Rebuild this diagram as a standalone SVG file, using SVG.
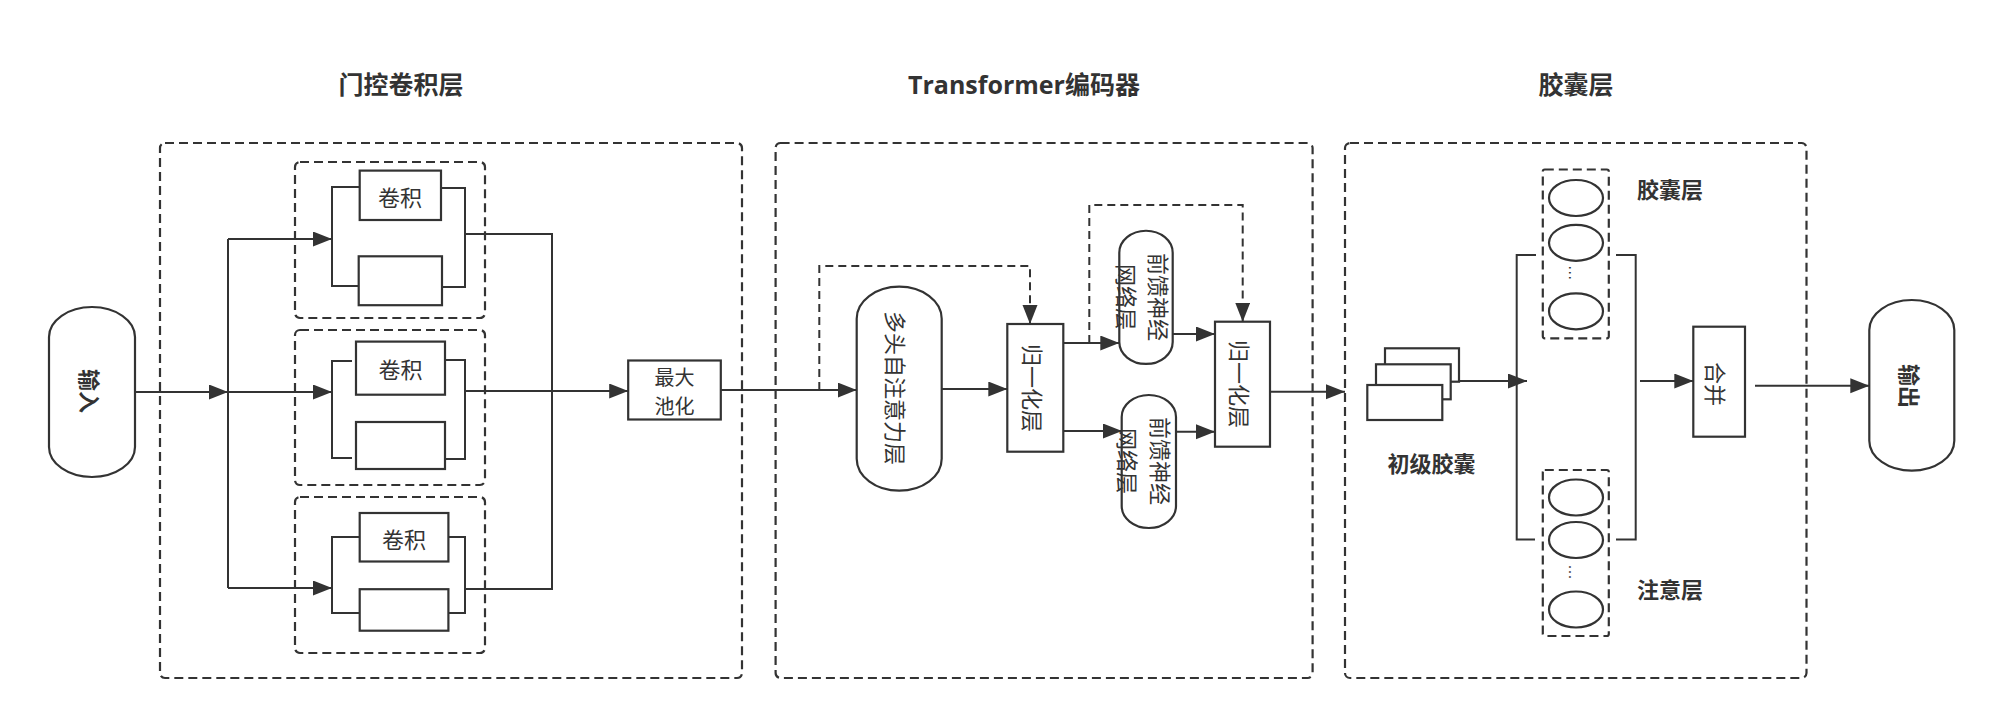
<svg xmlns="http://www.w3.org/2000/svg" width="2000" height="723" viewBox="0 0 2000 723">
<style>
.bg{fill:#ffffff}
.dbox{fill:none;stroke:#333;stroke-width:2.2;stroke-dasharray:9 5}
.shape{fill:#fff;stroke:#333;stroke-width:2.2}
.ln{fill:none;stroke:#333;stroke-width:2}
.dl{fill:none;stroke:#333;stroke-width:2;stroke-dasharray:8 5}
.arr{marker-end:url(#arrow)}
.title{font-family:"Open Sans","Noto Sans CJK SC",sans-serif;font-weight:bold;font-size:25px;fill:#333;text-anchor:middle;dominant-baseline:central}
.lbl{font-family:"Noto Sans CJK SC",sans-serif;font-weight:bold;font-size:22px;fill:#333;text-anchor:middle;dominant-baseline:central}
.t{font-family:"Noto Sans CJK SC",sans-serif;font-size:22px;fill:#333;text-anchor:middle;dominant-baseline:central}
.t2{font-family:"Noto Sans CJK SC",sans-serif;font-size:20px;fill:#333;text-anchor:middle;dominant-baseline:central}
.dots{font-family:"Liberation Sans",sans-serif;font-size:16px;fill:#333;text-anchor:middle;dominant-baseline:central}
</style>
<defs>
<marker id="arrow" markerUnits="userSpaceOnUse" markerWidth="20" markerHeight="16" refX="19" refY="7.5" orient="auto">
<path d="M0,0 L19,7.5 L0,15 Z" fill="#333"/>
</marker>
</defs>
<rect class="bg" x="0" y="0" width="2000" height="723"/>

<g id="titles">
<text class="title" x="401" y="84">门控卷积层</text>
<text class="title" x="1024" y="84">Transformer编码器</text>
<text class="title" x="1576" y="84">胶囊层</text>
</g>

<g id="group-gated-conv">
<rect class="dbox" x="160" y="143" width="582" height="535" rx="5"/>
</g>
<g id="group-transformer">
<rect class="dbox" x="775.6" y="143" width="537" height="535" rx="5"/>
</g>
<g id="group-capsule">
<rect class="dbox" x="1345" y="143" width="461.5" height="535" rx="5"/>
</g>

<g id="input">
<path class="shape" d="M49,337 A43,30 0 0 1 135,337 L135,447 A43,30 0 0 1 49,447 Z"/>
<text class="lbl" transform="translate(91,391) rotate(90)" x="0" y="0">输入</text>
</g>

<g id="conv-unit-1">
<rect class="dbox" x="295" y="162" width="190" height="156" rx="5"/>
<rect class="shape" x="359.7" y="170.6" width="81.3" height="49.4"/>
<text class="t" x="400" y="196">卷积</text>
<rect class="shape" x="358.7" y="256.3" width="83.3" height="48.9"/>
<path class="ln" d="M359.7,187 H332 V286 H358.7"/>
<path class="ln" d="M441,188 H465 V287 H442"/>
</g>

<g id="conv-unit-2">
<rect class="dbox" x="295" y="330" width="190" height="155" rx="5"/>
<rect class="shape" x="356" y="341.6" width="89" height="53.1"/>
<text class="t" x="400.5" y="368">卷积</text>
<rect class="shape" x="356" y="422" width="89" height="47"/>
<path class="ln" d="M352,361 H332 V458 H352"/>
<path class="ln" d="M445,360 H465 V459 H445"/>
</g>

<g id="conv-unit-3">
<rect class="dbox" x="295" y="497" width="190" height="156" rx="5"/>
<rect class="shape" x="359.7" y="513" width="88.7" height="48.5"/>
<text class="t" x="404" y="537.5">卷积</text>
<rect class="shape" x="359.7" y="589.2" width="88.7" height="41.5"/>
<path class="ln" d="M359.7,537 H332 V613 H359.7"/>
<path class="ln" d="M448.4,537 H465 V613 H448.4"/>
</g>

<g id="max-pool">
<rect class="shape" x="628.2" y="360.5" width="92.6" height="59"/>
<text class="t2" x="674.5" y="376.5">最大</text>
<text class="t2" x="674.5" y="405.5">池化</text>
</g>

<g id="multi-head-attention">
<path class="shape" d="M856.7,318.7 A42.5,32 0 0 1 941.7,318.7 L941.7,458.7 A42.5,32 0 0 1 856.7,458.7 Z"/>
<text class="t" transform="translate(897,388) rotate(90)" x="0" y="0">多头自注意力层</text>
</g>

<g id="norm-1">
<rect class="shape" x="1007.3" y="324" width="56" height="127.7"/>
<text class="t" transform="translate(1034,388) rotate(90)" x="0" y="0">归一化层</text>
</g>

<g id="ffn-1">
<path class="shape" d="M1119.3,252.7 A26.7,22 0 0 1 1172.7,252.7 L1172.7,342 A26.7,22 0 0 1 1119.3,342 Z"/>
<text class="t" transform="translate(1144,297) rotate(90)" x="0" y="-16">前馈神经</text>
<text class="t" transform="translate(1144,297) rotate(90)" x="0" y="16">网络层</text>
</g>

<g id="ffn-2">
<path class="shape" d="M1121.7,417 A27.15,22 0 0 1 1176,417 L1176,506 A27.15,22 0 0 1 1121.7,506 Z"/>
<text class="t" transform="translate(1145,461) rotate(90)" x="0" y="-16.5">前馈神经</text>
<text class="t" transform="translate(1145,461) rotate(90)" x="0" y="16.5">网络层</text>
</g>

<g id="norm-2">
<rect class="shape" x="1215" y="321.7" width="55" height="125"/>
<text class="t" transform="translate(1241,384) rotate(90)" x="0" y="0">归一化层</text>
</g>

<g id="primary-capsules">
<rect class="shape" x="1385" y="348.3" width="74" height="33.4"/>
<rect class="shape" x="1376" y="364.3" width="74.7" height="35"/>
<rect class="shape" x="1367.3" y="385" width="75" height="35"/>
<text class="lbl" x="1431.5" y="462">初级胶囊</text>
</g>

<g id="capsule-layer">
<rect class="dbox" x="1542.8" y="169.5" width="66" height="168.8" rx="2"/>
<ellipse class="shape" cx="1576" cy="198" rx="27" ry="18"/>
<ellipse class="shape" cx="1576" cy="242.8" rx="27" ry="18"/>
<text class="dots" transform="translate(1574.5,272.7) rotate(90)" x="0" y="0">…</text>
<ellipse class="shape" cx="1576" cy="311.3" rx="27" ry="18"/>
<text class="lbl" x="1670" y="188">胶囊层</text>
</g>

<g id="attention-layer">
<rect class="dbox" x="1542.8" y="470" width="66" height="166" rx="2"/>
<ellipse class="shape" cx="1576" cy="497.5" rx="27" ry="18"/>
<ellipse class="shape" cx="1576" cy="540" rx="27" ry="18"/>
<text class="dots" transform="translate(1574.5,572) rotate(90)" x="0" y="0">…</text>
<ellipse class="shape" cx="1576" cy="609.5" rx="27" ry="18"/>
<text class="lbl" x="1670" y="588">注意层</text>
</g>

<g id="merge">
<rect class="shape" x="1693.3" y="326.7" width="51.7" height="110"/>
<text class="t" transform="translate(1717,384) rotate(90)" x="0" y="0">合并</text>
</g>

<g id="output">
<path class="shape" d="M1869.3,330 A42.5,30 0 0 1 1954.3,330 L1954.3,440.7 A42.5,30 0 0 1 1869.3,440.7 Z"/>
<text class="lbl" transform="translate(1911,386) rotate(90)" x="0" y="0">输出</text>
</g>

<g id="connectors">
<path class="ln arr" d="M135,392 H228"/>
<path class="ln" d="M228,239 V588"/>
<path class="ln arr" d="M228,239 H332"/>
<path class="ln arr" d="M228,392 H332"/>
<path class="ln arr" d="M228,588 H332"/>
<path class="ln" d="M465,234 H552 V589 H465"/>
<path class="ln arr" d="M465,391 H628.2"/>
<path class="ln arr" d="M720.8,390 H856.7"/>
<path class="dl arr" d="M819.3,390 V266 H1030 V324"/>
<path class="ln arr" d="M941.7,389 H1007.3"/>
<path class="ln arr" d="M1063.3,343 H1119.3"/>
<path class="dl arr" d="M1089.3,343 V205 H1242.7 V321.7"/>
<path class="ln arr" d="M1063.3,431 H1122"/>
<path class="ln arr" d="M1172.7,334 H1215"/>
<path class="ln arr" d="M1176,431.7 H1215"/>
<path class="ln arr" d="M1270,391.7 H1345"/>
<path class="ln arr" d="M1459,381 H1527"/>
<path class="ln" d="M1536,255 H1516.7 V539.4 H1535"/>
<path class="ln" d="M1616,255 H1635.7 V539.4 H1616"/>
<path class="ln arr" d="M1640,381 H1693.3"/>
<path class="ln arr" d="M1755,385.7 H1869.3"/>
</g>
</svg>
